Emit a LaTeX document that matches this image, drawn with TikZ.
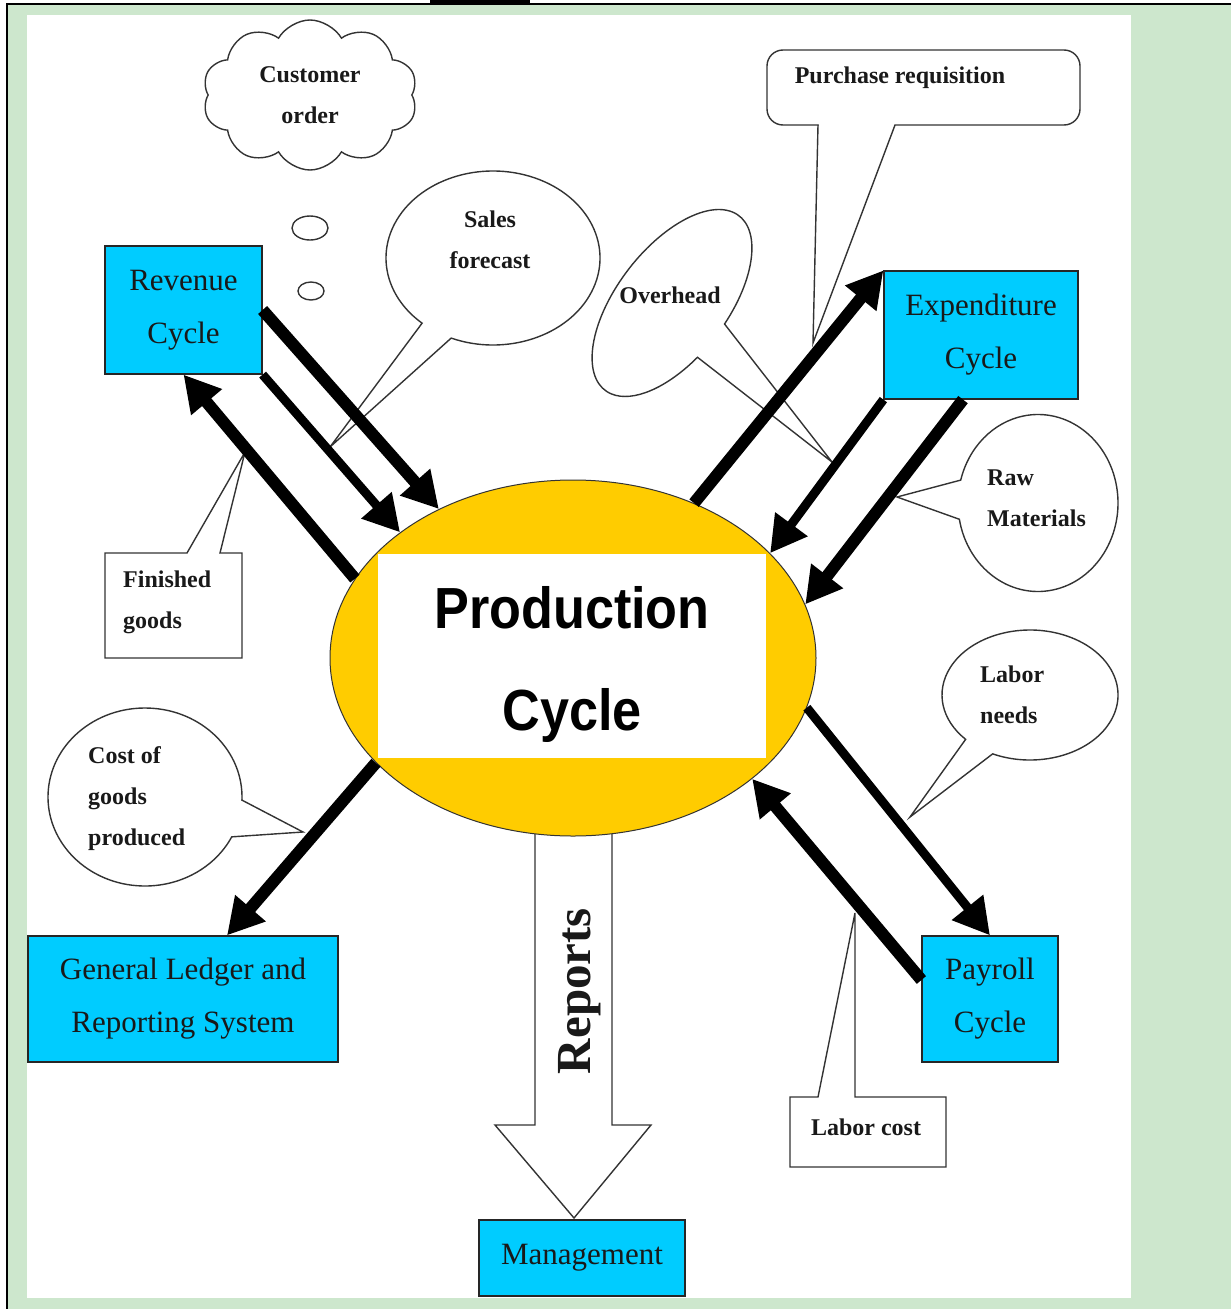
\documentclass[tikz,border=0pt]{standalone}
\usepackage{fontspec}
\setmainfont{Liberation Serif}
\newfontfamily\sansfam{Liberation Sans}
\usetikzlibrary{arrows.meta,shapes.geometric,shapes.symbols,calc}
\definecolor{bggreen}{RGB}{205,231,205}
\definecolor{boxcyan}{RGB}{0,204,255}
\definecolor{prodgold}{RGB}{255,204,0}
\begin{document}
\begin{tikzpicture}[x=1pt,y=1pt,
  cycbox/.style={draw=black!85, line width=1.2pt, fill=boxcyan, align=center, inner sep=0pt,
    font=\fontsize{31}{53}\selectfont, text=black!90},
  flow/.style={line width=12pt, draw=black, -{Triangle[length=36pt,width=38pt]}},
  flowthin/.style={flow, line width=9pt},
  callout/.style={draw=black!80, line width=1.4pt, fill=white},
  calltext/.style={font=\bfseries\fontsize{24}{41}\selectfont, inner sep=0pt, text=black!90},
]
% ---------- page background ----------
\fill[white] (0,0) rectangle (1231,-1309);
\useasboundingbox (0,0) rectangle (1231,-1309);
\fill[bggreen] (7,-4) rectangle (1231,-1309);
\draw[line width=1.5pt] (7,-1309) -- (7,-4) -- (1231,-4);
\fill[black] (430,0) rectangle (530,-3);
\fill[white] (27,-15) rectangle (1131,-1298);

% ---------- callouts ----------
% Customer order (thought cloud)
\node[cloud, cloud puffs=10, cloud puff arc=120, cloud ignores aspect, callout,
      minimum width=215pt, minimum height=150pt, inner sep=0pt, calltext, align=center]
      (cust) at (310,-95) {Customer\\order};
\node[ellipse, callout, minimum width=36pt, minimum height=24pt, inner sep=0pt] (bubA) at (310,-228) {};
\node[ellipse, callout, minimum width=26pt, minimum height=18pt, inner sep=0pt] (bubB) at (311,-291) {};

% Sales forecast
\coordinate (tipSF) at (330,-447);
\begin{scope}[shift={(493,-258)}]
  \path[callout] (247:107 and 87) arc[start angle=247, end angle=588.5, x radius=107, y radius=87] -- (tipSF) -- cycle;
\end{scope}
\node[calltext, align=center] (sftext) at (490,-240) {Sales\\forecast};

% Overhead
\coordinate (tipOH) at (832,-462);
\begin{scope}[shift={(672,-303)}, rotate=52.5]
  \path[callout] (278:110 and 55) arc[start angle=278, end angle=615.5, x radius=110, y radius=55] -- (tipOH) -- cycle;
\end{scope}
\node[calltext] (ohtext) at (670,-295) {Overhead};

% Purchase requisition (rounded box with a sharp tail)
\coordinate (tipPR) at (813,-343);
\node[callout, rounded corners=16pt, minimum width=313pt, minimum height=75pt, inner sep=0pt] (preq) at (923.5,-87.5) {};
\fill[white] (818.8,-119) -- (894.3,-119) -- (894.3,-125) -- (tipPR) -- (818.8,-125) -- cycle;
\draw[draw=black!80, line width=1.4pt] (818,-125) -- (tipPR) -- (895,-125);
\node[calltext] (prtext) at (900,-78) {Purchase requisition};

% Finished goods
\coordinate (tipFG) at (245,-452);
\path[callout] (105,-553) -- (187,-553) -- (tipFG) -- (220,-553) -- (242,-553) -- (242,-658) -- (105,-658) -- cycle;
\node[calltext, align=left, anchor=west] (fgtext) at (123,-602) {Finished\\goods};

% Raw Materials
\coordinate (tipRM) at (897,-497);
\begin{scope}[shift={(1038,-503)}]
  \path[callout] (190.6:80 and 88.5) arc[start angle=190.6, end angle=525, x radius=80, y radius=88.5] -- (tipRM) -- cycle;
\end{scope}
\node[calltext, align=left, anchor=west] (rmtext) at (987,-498) {Raw\\Materials};

% Labor needs
\coordinate (tipLN) at (910,-817);
\begin{scope}[shift={(1030,-695)}]
  \path[callout] (244.9:88 and 65) arc[start angle=244.9, end angle=583, x radius=88, y radius=65] -- (tipLN) -- cycle;
\end{scope}
\node[calltext, align=left, anchor=west] (lntext) at (980,-695) {Labor\\needs};

% Cost of goods produced
\coordinate (tipCG) at (303,-832);
\begin{scope}[shift={(145,-797)}]
  \path[callout] (-2:97 and 89) arc[start angle=-2, end angle=333.4, x radius=97, y radius=89] -- (tipCG) -- cycle;
\end{scope}
\node[calltext, align=left, anchor=west] (cgtext) at (88,-799) {Cost of\\goods\\produced};

% Labor cost
\coordinate (tipLC) at (855,-913);
\path[callout] (790,-1097) -- (818,-1097) -- (tipLC) -- (855,-1097) -- (946,-1097) -- (946,-1167) -- (790,-1167) -- cycle;
\node[calltext] (lctext) at (866,-1127) {Labor cost};

% ---------- Reports block arrow ----------
\path[callout] (535,-820) -- (535,-1125) -- (495,-1125) -- (574,-1218) -- (651,-1125) -- (612,-1125) -- (612,-820) -- cycle;
\node[rotate=90, font=\bfseries\fontsize{49}{49}\selectfont, inner sep=0pt, text=black!90] (reports) at (580,-991) {Reports};

% ---------- cycle boxes and production ellipse ----------
\node[ellipse, draw=black!80, line width=1pt, fill=prodgold, minimum width=486pt, minimum height=356pt, inner sep=0pt] (prod) at (573,-658) {};
\node[cycbox, minimum width=157pt, minimum height=128pt] (rev) at (183.5,-310) {Revenue\\Cycle};
\node[cycbox, minimum width=194pt, minimum height=128pt] (exp) at (981,-335) {Expenditure\\Cycle};
\node[cycbox, minimum width=310pt, minimum height=126pt] (gl) at (183,-999) {General Ledger and\\Reporting System};
\node[cycbox, minimum width=136pt, minimum height=126pt] (pay) at (990,-999) {Payroll\\Cycle};
\node[cycbox, minimum width=206pt, minimum height=76pt] (mgmt) at (582,-1258) {Management};

% ---------- flows ----------
\draw[flow] (rev.east) -- (prod.132);
\draw[flowthin] (rev.south east) -- (prod.144);
\draw[flow] (prod.160) -- (rev.south);
\draw[flow] (prod.52) -- (exp.north west);
\draw[flowthin] (exp.south west) -- (prod.28);
\draw[flow] ([xshift=-18pt]exp.south) -- (prod.13);
\draw[flowthin] (prod.348) -- (pay.north);
\draw[flow] ([yshift=19pt]pay.west) -- (prod.326);
\draw[flow] (prod.208) -- ([xshift=44pt]gl.north);

% ---------- production label ----------
\node[fill=white, minimum width=388pt, minimum height=204pt, inner sep=0pt] (prodpanel) at (572,-656) {};
\node[inner sep=0pt, align=center, font=\sansfam\bfseries\fontsize{58}{102}\selectfont] (prodlabel) at (572,-664)
      {\scalebox{0.9}[1]{Production}\\\scalebox{0.9}[1]{Cycle}};
\end{tikzpicture}
\end{document}
